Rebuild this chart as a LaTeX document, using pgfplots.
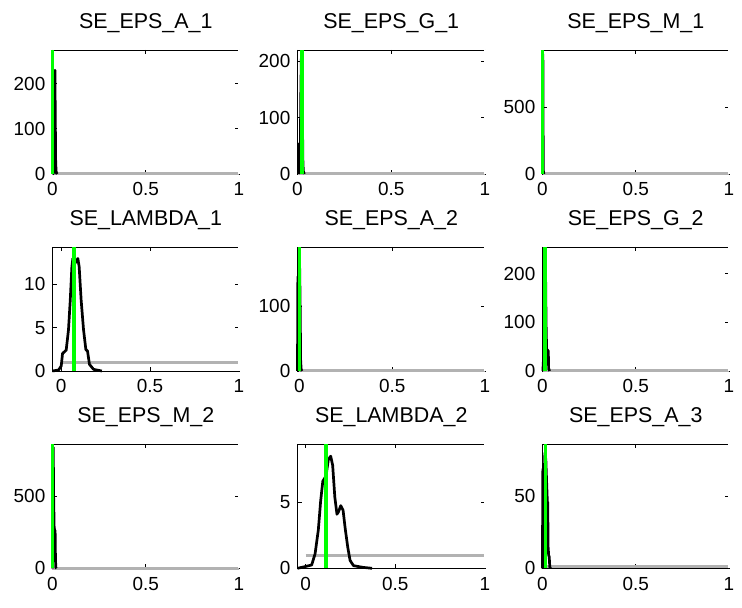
\documentclass[border=0pt]{standalone}
\usepackage{fontspec}
\setmainfont{Liberation Sans}
\usepackage{pgfplots}
\pgfplotsset{compat=1.18}
\definecolor{priorgray}{rgb}{0.7,0.7,0.7}
\definecolor{modegreen}{rgb}{0,1,0}
\pgfplotsset{
  panel/.style={
    scale only axis,
    width=186.5bp, height=124bp,
    anchor=south west,
    xmin=0, xmax=1,
    xtick={0,0.5,1},
    axis line style={black, line width=0.9bp},
    tick align=inside,
    major tick length=4bp,
    every tick/.style={black, line width=0.9bp},
    tick label style={font=\fontsize{19}{22}\selectfont},
    /pgf/number format/assume math mode=true,
    xticklabel style={inner sep=0pt, anchor=north, yshift=-8.5bp},
    yticklabel style={inner sep=0pt, anchor=east, xshift=-7bp},
    title style={font=\fontsize{21.5}{26}\selectfont, at={(0.5,1)}, anchor=base, yshift=15.5bp, inner sep=0pt},
    clip=false,
    scaled ticks=false,
    after end axis/.code={\draw[white, line width=1.3bp] (rel axis cs:1,0) -- (rel axis cs:1,1);},
  },
  prior/.style={priorgray, line width=3bp},
  post/.style={black, line width=2.7bp, line join=round},
  mode/.style={modegreen, line width=3.5bp},
}
\begin{document}
\begin{tikzpicture}
\path[use as bounding box] (0,0) rectangle (742bp,608bp);

% Row 1
\begin{axis}[panel, at={(52.5bp,434bp)}, title={SE\_EPS\_A\_1}, ymin=0, ymax=275, ytick={0,100,200}]
\addplot[prior] coordinates {(0,1) (1,1)};
\addplot[post] coordinates {(0,0) (0.004,1) (0.007,20) (0.009,90) (0.011,200) (0.013,230) (0.015,120) (0.017,25) (0.020,3) (0.025,0)};
\addplot[mode] coordinates {(0,0) (0,275)};
\end{axis}

\begin{axis}[panel, at={(297.5bp,434bp)}, width=187.5bp, title={SE\_EPS\_G\_1}, ymin=0, ymax=220, ytick={0,100,200}]
\addplot[prior] coordinates {(0,1) (1,1)};
\addplot[post] coordinates {(0.006,0) (0.008,30) (0.009,54) (0.0105,5) (0.014,10) (0.018,150) (0.021,215) (0.025,200) (0.028,30) (0.031,5) (0.036,0)};
\addplot[mode] coordinates {(0.023,0) (0.023,220)};
\end{axis}

\begin{axis}[panel, at={(542.5bp,434bp)}, title={SE\_EPS\_M\_1}, ymin=0, ymax=930, ytick={0,500}]
\addplot[prior] coordinates {(0,1) (1,1)};
\addplot[post] coordinates {(0,0) (0.001,600) (0.002,900) (0.003,500) (0.004,30) (0.007,0)};
\addplot[mode] coordinates {(0.001,0) (0.001,930)};
\end{axis}

% Row 2
\begin{axis}[panel, at={(52.5bp,237bp)}, title={SE\_LAMBDA\_1}, xmin=-0.049, ymin=0, ymax=14.3, ytick={0,5,10}]
\addplot[prior] coordinates {(0,1) (1,1)};
\addplot[post] coordinates {(-0.049,0) (-0.015,0.11) (0.000,0.57) (0.0075,2.02) (0.028,2.40) (0.041,4.77) (0.051,8.21) (0.060,12.02) (0.0655,12.98) (0.074,12.3) (0.0936,12.98) (0.101,12.02) (0.112,8.21) (0.1255,4.77) (0.1386,2.48) (0.148,2.29) (0.159,0.76) (0.182,0.19) (0.2285,0)};
\addplot[mode] coordinates {(0.073,0) (0.073,14.3)};
\end{axis}

\begin{axis}[panel, at={(297.5bp,237bp)}, width=187.5bp, title={SE\_EPS\_A\_2}, xmin=-0.01, ymin=0, ymax=192, ytick={0,100}]
\addplot[prior] coordinates {(0,1) (1,1)};
\addplot[post] coordinates {(-0.01,0) (-0.009,80) (-0.008,146) (-0.007,90) (-0.005,40) (-0.002,100) (0.001,170) (0.004,110) (0.007,15) (0.01,2) (0.014,0)};
\addplot[mode] coordinates {(0.002,0) (0.002,192)};
\end{axis}

\begin{axis}[panel, at={(542.5bp,237bp)}, title={SE\_EPS\_G\_2}, ymin=0, ymax=255, ytick={0,100,200}]
\addplot[prior] coordinates {(0,1) (1,1)};
\addplot[post] coordinates {(0.002,0) (0.006,30) (0.010,150) (0.013,250) (0.017,180) (0.019,100) (0.022,45) (0.029,42) (0.031,41) (0.033,5) (0.038,0)};
\addplot[mode] coordinates {(0.0134,0) (0.0134,255)};
\end{axis}

% Row 3
\begin{axis}[panel, at={(52.5bp,39.7bp)}, title={SE\_EPS\_M\_2}, ymin=0, ymax=860, ytick={0,500}]
\addplot[prior] coordinates {(0,1) (1,1)};
\addplot[post] coordinates {(0,0) (0.002,500) (0.004,840) (0.006,500) (0.009,280) (0.012,263) (0.014,263) (0.016,60) (0.018,5) (0.022,0)};
\addplot[mode] coordinates {(0,0) (0,860)};
\end{axis}

\begin{axis}[panel, at={(297.5bp,39.7bp)}, width=187.5bp, title={SE\_LAMBDA\_2}, xmin=-0.045, ymin=0, ymax=9.4, ytick={0,5}]
\addplot[prior] coordinates {(0,1) (1,1)};
\addplot[post] coordinates {(-0.045,0) (-0.012,0.1) (0.034,0.25) (0.053,1.1) (0.071,2.9) (0.084,5.1) (0.096,6.6) (0.114,7.0) (0.127,8.25) (0.140,8.5) (0.151,7.8) (0.163,5.4) (0.175,4.1) (0.184,4.3) (0.196,4.75) (0.209,4.4) (0.221,3.0) (0.235,1.6) (0.248,0.6) (0.267,0.2) (0.320,0.07) (0.370,0)};
\addplot[mode] coordinates {(0.114,0) (0.114,9.4)};
\end{axis}

\begin{axis}[panel, at={(542.5bp,39.7bp)}, title={SE\_EPS\_A\_3}, ymin=0, ymax=86, ytick={0,50}]
\addplot[prior] coordinates {(0,1) (1,1)};
\addplot[post] coordinates {(0,0) (0.001,60) (0.002,69) (0.004,40) (0.008,60) (0.013,80) (0.018,75) (0.022,60) (0.026,46) (0.028,46) (0.030,15) (0.033,9) (0.036,8) (0.039,1) (0.043,0)};
\addplot[mode] coordinates {(0.017,0) (0.017,86)};
\end{axis}
\end{tikzpicture}
\end{document}
